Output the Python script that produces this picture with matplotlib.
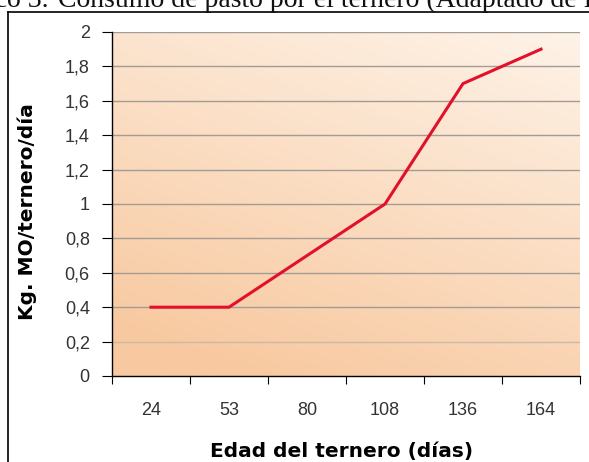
import numpy as np
import matplotlib.pyplot as plt
from matplotlib.colors import LinearSegmentedColormap

edad = ["24", "53", "80", "108", "136", "164"]
consumo = [0.4, 0.4, 0.7, 1.0, 1.7, 1.9]
y_ticks = [0, 0.2, 0.4, 0.6, 0.8, 1, 1.2, 1.4, 1.6, 1.8, 2]

W, H = 589, 462
fig = plt.figure(figsize=(W / 100, H / 100), dpi=100)

# caption, cut off at the top of the page as in the scan
base = 1.0 - 7 / H
fig.text(49 / W, base, "Gráfico 3.", family="Liberation Serif", fontsize=20,
         va="baseline", ha="right", color="#111111")
fig.text(58 / W, base, "Consumo de pasto por el ternero (Adaptado de Ruiz)",
         family="Liberation Serif", fontsize=20, va="baseline", ha="left", color="#111111")

# frame around the chart
fig.add_artist(plt.Line2D([8 / W, 8 / W], [0, 1 - 12 / H], color="black", lw=1.2))
fig.add_artist(plt.Line2D([8 / W, 1.0], [1 - 12 / H, 1 - 12 / H], color="black", lw=1.2))

ax = fig.add_axes([112 / W, 1 - 376 / H, (580 - 112) / W, (376 - 32) / H])

# gradient background: orange at bottom-left, pale towards the top
cmap = LinearSegmentedColormap.from_list("peach", ["#FEF3E8", "#F8C9A0"])
gx, gy = np.meshgrid(np.linspace(0, 1, 200), np.linspace(0, 1, 200))
grad = np.clip((1 - gx) * 0.35 + (1 - gy) * 0.75, 0, 1)
ax.imshow(grad, cmap=cmap, vmin=0, vmax=1, extent=[0, 1, 0, 1], transform=ax.transAxes,
          aspect="auto", origin="lower", zorder=0)

x = np.arange(len(edad))
ax.plot(x, consumo, color="#E3102B", lw=2.2, zorder=3)

ax.set_xlim(-0.5, len(edad) - 0.5)
ax.set_ylim(0, 2)
ax.set_yticks(y_ticks)
ax.set_yticklabels([f"{v:g}".replace(".", ",") for v in y_ticks])
for v in y_ticks[1:]:
    ax.axhline(v, color="#A39C94" if v != 0.2 else "#C9B9A8", lw=1.0, zorder=1)

ax.set_xticks(np.arange(-0.5, len(edad), 1.0))
ax.set_xticklabels([])
ax.set_xticks(x, minor=True)
ax.set_xticklabels(edad, minor=True)
ax.tick_params(axis="x", which="minor", length=0, pad=19)
ax.tick_params(axis="x", which="major", length=6, direction="out")
ax.tick_params(axis="y", length=7, direction="out", pad=9)
ax.tick_params(which="both", labelsize=13, labelcolor="#333333")
for lab in ax.get_xticklabels(minor=True) + ax.get_yticklabels():
    lab.set_family("Liberation Sans")

for s in ["top", "right"]:
    ax.spines[s].set_visible(False)
ax.spines["left"].set_linewidth(1.0)
ax.spines["bottom"].set_linewidth(1.0)

ax.set_xlabel("Edad del ternero (días)", fontsize=14.5, fontweight="bold",
              family="DejaVu Sans", labelpad=10)
ax.set_ylabel("Kg. MO/ternero/día", fontsize=14.5, fontweight="bold",
              family="DejaVu Sans")
ax.xaxis.set_label_coords(0.49, (376 - 452) / (376 - 32))
ax.yaxis.set_label_coords((27 - 112) / (580 - 112), (376 - 212) / (376 - 32))
ax.xaxis.label.set_va("center")
ax.yaxis.label.set_va("center")

fig.savefig("out.png", dpi=100)
